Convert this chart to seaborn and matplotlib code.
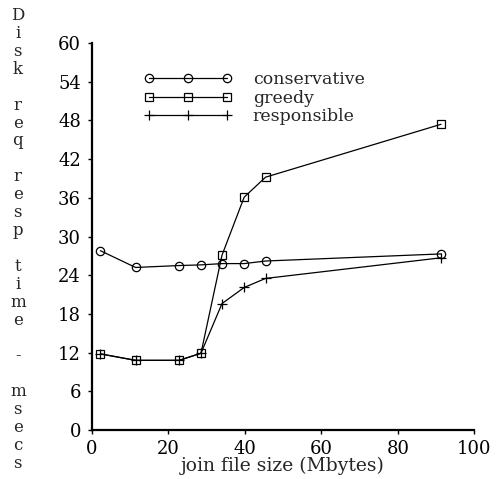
import matplotlib
matplotlib.use("Agg")
import matplotlib.pyplot as plt
from matplotlib.legend_handler import HandlerLine2D
import pandas as pd
import seaborn as sns

# Join file sizes (Mbytes) and disk request response times (msecs)
file_size = [2.2, 11.4, 22.8, 28.5, 34.0, 39.8, 45.4, 91.3]
conservative = [27.8, 25.2, 25.5, 25.6, 25.8, 25.8, 26.2, 27.3]
greedy = [11.8, 10.8, 10.8, 11.9, 27.1, 36.1, 39.2, 47.4]
responsible = [11.8, 10.8, 10.8, 11.9, 19.6, 22.1, 23.5, 26.7]

policies = ["conservative", "greedy", "responsible"]
series = [conservative, greedy, responsible]
markers = ["o", "s", "+"]
x_ticks = [0, 20, 40, 60, 80, 100]
y_ticks = [0, 6, 12, 18, 24, 30, 36, 42, 48, 54, 60]
ylabel_text = "Disk req resp time - msecs"
xlabel_text = "join file size (Mbytes)"

sns.set_style("ticks")
plt.rcParams["font.family"] = ["DejaVu Serif"]

fig = plt.figure(figsize=(4.96, 4.79), dpi=100)
ax = fig.add_axes([0.1855, 0.1023, 0.7708, 0.8079])

for name, values, mk in zip(policies, series, markers):
    df = pd.DataFrame({"size": file_size, "time": values})
    sns.lineplot(
        data=df, x="size", y="time", ax=ax, label=name,
        color="black", linewidth=0.9, marker=mk,
        markersize=7 if mk == "+" else 6,
        markerfacecolor="none", markeredgecolor="black", markeredgewidth=0.9,
    )

handles, labels = ax.get_legend_handles_labels()
ax.legend(
    handles, labels, numpoints=3, frameon=False, fontsize=12.5,
    handlelength=5.9, handletextpad=0.75, labelspacing=0.1,
    loc="upper left", bbox_to_anchor=(0.1, 0.946), borderaxespad=0,
    handler_map={h: HandlerLine2D(marker_pad=0.7) for h in handles},
)

ax.set_xlim(0, 100)
ax.set_ylim(0, 60)
ax.set_xticks(x_ticks)
ax.set_yticks(y_ticks)
ax.tick_params(axis="both", labelsize=13, length=3, width=1, direction="out",
               colors="black")
ax.tick_params(axis="y", pad=5)
ax.tick_params(axis="x", pad=4)
for s in ["top", "right"]:
    ax.spines[s].set_visible(False)
for s in ["left", "bottom"]:
    ax.spines[s].set_linewidth(1.6)
    ax.spines[s].set_color("black")

ax.set_xlabel(xlabel_text, fontsize=13.5, labelpad=-1)
ax.set_ylabel("")

fig.text(0.036, 0.5, "\n".join(ylabel_text), ha="center", va="center",
         fontsize=12, linespacing=1.07)

fig.savefig("out.png", dpi=100, facecolor="white")
